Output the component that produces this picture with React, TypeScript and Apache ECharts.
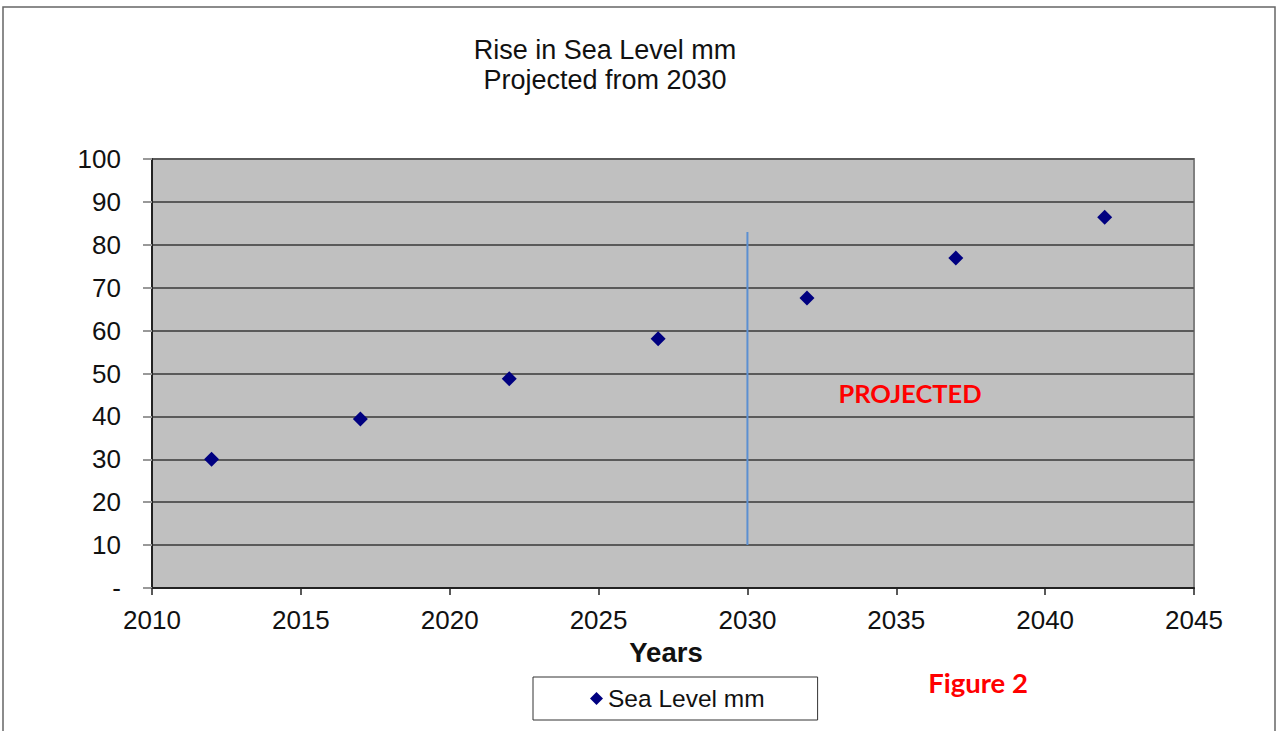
import React, { useEffect, useRef } from "react";
import * as echarts from "echarts";

const years = [2012, 2017, 2022, 2027, 2032, 2037, 2042];
const seaLevel = [30, 39.4, 48.8, 58.1, 67.6, 76.9, 86.4];
const dividerYear = 2030;
const dividerRange = [10, 83];
const seriesName = "Sea Level mm";
const titleLines = ["Rise in Sea Level mm", "Projected from 2030"];
const xAxisName = "Years";
const projectedLabel = "PROJECTED";
const figureLabel = "Figure 2";

const FONT = "'Liberation Sans', Arial, sans-serif";

export default function App() {
  const ref = useRef<HTMLDivElement>(null);
  useEffect(() => {
    const chart = echarts.init(ref.current!, null, { renderer: "svg" });
    chart.setOption({
      animation: false,
      backgroundColor: "#ffffff",
      textStyle: { fontFamily: FONT },
      grid: {
        left: 152,
        top: 159,
        width: 1042,
        height: 429,
        show: true,
        backgroundColor: "#C0C0C0",
        borderColor: "#808080",
        borderWidth: 2,
      },
      xAxis: {
        type: "value",
        min: 2010,
        max: 2045,
        interval: 5,
        axisLine: { show: true, lineStyle: { color: "#222", width: 2 } },
        axisTick: { show: true, length: 7, lineStyle: { color: "#222", width: 1.5 } },
        axisLabel: {
          fontSize: 26,
          color: "#111",
          margin: 19,
          fontFamily: FONT,
          formatter: (v: number) => String(v),
        },
        splitLine: { show: false },
      },
      yAxis: {
        type: "value",
        min: 0,
        max: 100,
        interval: 10,
        axisLine: { show: true, lineStyle: { color: "#222", width: 2 } },
        axisTick: { show: true, length: 9, lineStyle: { color: "#999", width: 2 } },
        axisLabel: {
          fontSize: 26,
          color: "#111",
          margin: 31,
          fontFamily: FONT,
          formatter: (v: number) => (v === 0 ? "-" : String(v)),
        },
        splitLine: { show: true, lineStyle: { color: "#5a5a5a", width: 2 } },
      },
      legend: {
        data: [seriesName],
        left: 533,
        top: 677,
        orient: "horizontal",
        padding: [9, 53, 9, 57],
        itemWidth: 13,
        itemHeight: 13,
        itemGap: 5,
        borderColor: "#333",
        borderWidth: 1,
        backgroundColor: "#fff",
        textStyle: { fontSize: 24.5, color: "#111", fontFamily: FONT },
      },
      series: [
        {
          name: seriesName,
          type: "scatter",
          symbol: "diamond",
          symbolSize: 15,
          itemStyle: { color: "#000080", opacity: 1 },
          data: years.map((y, i) => [y, seaLevel[i]]),
          z: 5,
        },
        {
          name: "divider",
          type: "line",
          symbol: "none",
          lineStyle: { color: "#5B8FD1", width: 2 },
          data: dividerRange.map((v) => [dividerYear, v]),
          z: 4,
        },
      ],
      graphic: [
        {
          type: "rect",
          shape: { x: 3, y: 7, width: 1272, height: 760 },
          style: { fill: "none", stroke: "#666", lineWidth: 1.5 },
          silent: true,
        },
        {
          type: "text",
          x: 605,
          y: 50,
          style: {
            text: titleLines[0],
            fontSize: 27,
            fontFamily: FONT,
            fill: "#111",
            textAlign: "center",
            textVerticalAlign: "middle",
          },
        },
        {
          type: "text",
          x: 605,
          y: 80,
          style: {
            text: titleLines[1],
            fontSize: 27,
            fontFamily: FONT,
            fill: "#111",
            textAlign: "center",
            textVerticalAlign: "middle",
          },
        },
        {
          type: "text",
          x: 666,
          y: 652,
          style: {
            text: xAxisName,
            fontSize: 27.5,
            fontWeight: "bold",
            fontFamily: FONT,
            fill: "#111",
            textAlign: "center",
            textVerticalAlign: "middle",
          },
        },
        {
          type: "text",
          x: 910,
          y: 393,
          z: 10,
          style: {
            text: projectedLabel,
            fontSize: 25.5,
            fontWeight: "bold",
            fontFamily: "Lato, 'Open Sans', sans-serif",
            fill: "#FF0000",
            textAlign: "center",
            textVerticalAlign: "middle",
          },
        },
        {
          type: "text",
          x: 978,
          y: 682,
          style: {
            text: figureLabel,
            fontSize: 27.5,
            fontWeight: "bold",
            fontFamily: "Lato, 'Open Sans', sans-serif",
            fill: "#FF0000",
            textAlign: "center",
            textVerticalAlign: "middle",
          },
        },
      ],
    });
    return () => chart.dispose();
  }, []);
  return (
    <div
      ref={ref}
      style={{ position: "absolute", left: 0, top: 0, width: 1276, height: 731 }}
    />
  );
}
